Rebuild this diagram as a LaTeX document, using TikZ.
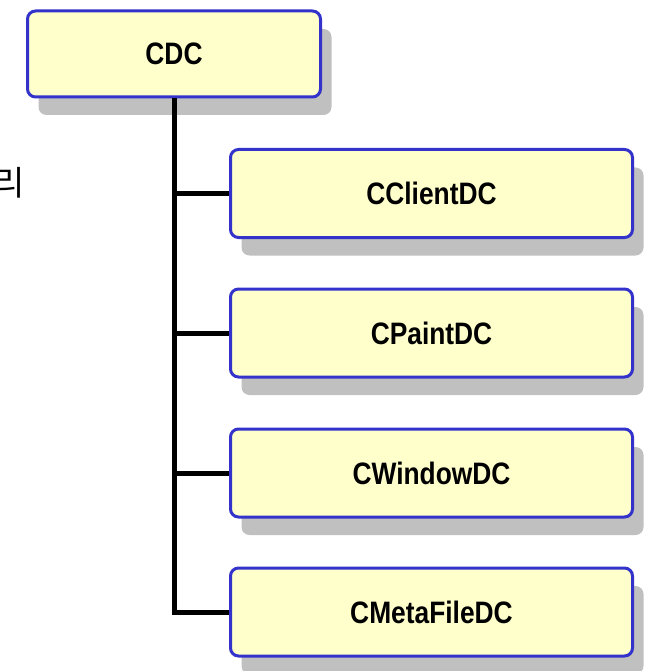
\documentclass[tikz,border=0pt]{standalone}
\usepackage{fontspec}
\setmainfont{Liberation Sans}[FakeStretch=0.85]
\newfontfamily\hangul{Noto Sans CJK KR}
\usepackage{tikz}
\usetikzlibrary{shadows}
\definecolor{boxfill}{HTML}{FFFFCC}
\definecolor{boxline}{HTML}{3333CC}
\definecolor{shade}{HTML}{C0C0C0}
\tikzset{
  dcbox/.style={rectangle, rounded corners=8pt, draw=boxline, line width=3pt,
    fill=boxfill, font=\fontsize{31}{36}\selectfont\bfseries,
    general shadow={fill=shade, shadow xshift=11pt, shadow yshift=-18pt}},
  tree/.style={line width=5pt}
}

\begin{document}
\begin{tikzpicture}[x=1pt,y=-1pt]
\useasboundingbox (0,0) rectangle (648,671);
% left over from the slide text
\node [anchor=base east, inner sep=0pt, font=\hangul\fontsize{34}{34}\selectfont] (frag) at (25,195) {리};
% base class and the derived ones
\node [dcbox, minimum width=293pt, minimum height=86pt] (cdc) at (174,54) {CDC};
\node [dcbox, minimum width=402pt, minimum height=88pt] (client) at (431.5,193.5) {CClientDC};
\node [dcbox, minimum width=402pt, minimum height=88pt] (paint) at (431.5,333) {CPaintDC};
\node [dcbox, minimum width=402pt, minimum height=88pt] (window) at (431.5,473) {CWindowDC};
\node [dcbox, minimum width=402pt, minimum height=88pt] (meta) at (431.5,612) {CMetaFileDC};
% hierarchy lines
\draw [tree] (cdc.south) -- (cdc.south |- meta.west) -- (meta.west);
\foreach \n in {client,paint,window}
  \draw [tree] (cdc.south |- \n.west) -- (\n.west);
\end{tikzpicture}
\end{document}
